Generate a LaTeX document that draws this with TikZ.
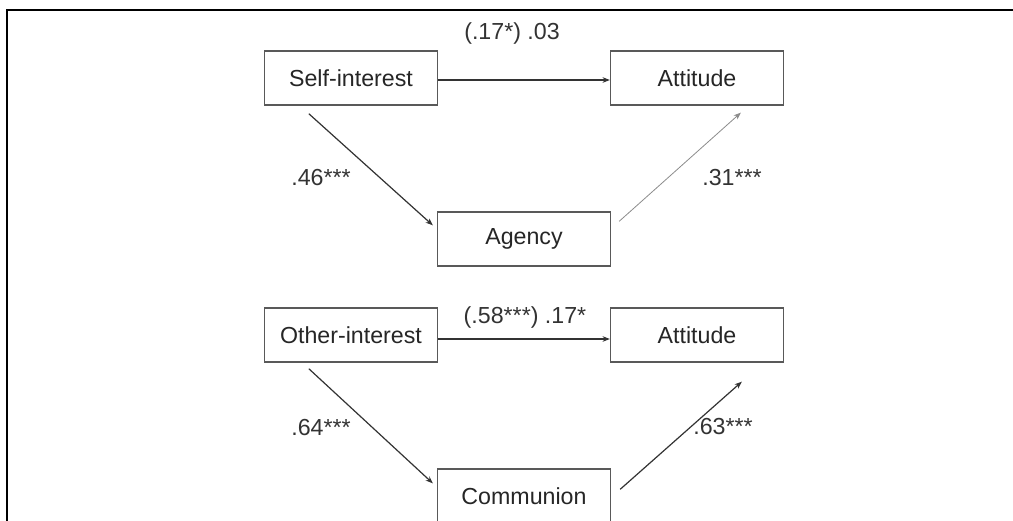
\documentclass[tikz,border=0pt]{standalone}
\usepackage{fontspec}
\setmainfont{Liberation Sans}
\usetikzlibrary{arrows.meta,calc}
\begin{document}
\begin{tikzpicture}[x=0.5pt,y=-0.5pt,
  varbox/.style={draw=black!65,line width=0.7pt,minimum width=86.5pt,minimum height=27pt,
    inner sep=0pt,font=\fontsize{11.6pt}{13pt}\selectfont,text=black!85},
  coef/.style={font=\fontsize{11.6pt}{13pt}\selectfont,text=black!80,inner sep=0pt},
  path/.style={draw=black!80,line width=0.6pt,-{Stealth[length=3.6pt,width=2.8pt]}},
  faint/.style={draw=black!45,line width=0.4pt,-{Stealth[length=3.6pt,width=2.8pt]}}]
\useasboundingbox (0,0) rectangle (1013,520);
\clip (0,0) rectangle (1013,520);
\fill[white] (0,0) rectangle (1013,520);
% outer frame
\draw[line width=1.3pt,black] (7,540) -- (7,10) -- (1030,10);

% self-interest mediation model
\node[varbox] (self) at (351,78) {Self-interest};
\node[varbox] (att1) at (697,78) {Attitude};
\node[varbox] (agency) at (524,239) {Agency};
\draw[path] ([yshift=-1pt]self.east) -- ([yshift=-1pt]att1.west);
\draw[path] ($(self.south west)+(45,8)$) -- ($(agency.north west)+(-4,14)$);
\draw[faint] ($(agency.north east)+(8,10)$) -- ($(att1.south west)+(131,7)$);
\node[coef] (c1) at (512,33) {(.17*) .03};
\node[coef] (c2) at (321,178) {.46***};
\node[coef] (c3) at (732,178) {.31***};

% other-interest mediation model
\node[varbox] (other) at (351,335) {Other-interest};
\node[varbox] (att2) at (697,335) {Attitude};
\node[varbox] (comm) at (524,496) {Communion};
\draw[path] ([yshift=-2pt]other.east) -- ([yshift=-2pt]att2.west);
\draw[path] ($(other.south west)+(45,6)$) -- ($(comm.north west)+(-4,15)$);
\draw[path] ($(comm.north east)+(9,21)$) -- ($(att2.south west)+(132,19)$);
\node[coef] (c4) at (525,317) {(.58***) .17*};
\node[coef] (c5) at (321,428) {.64***};
\node[coef] (c6) at (723,427) {.63***};
\end{tikzpicture}
\end{document}
